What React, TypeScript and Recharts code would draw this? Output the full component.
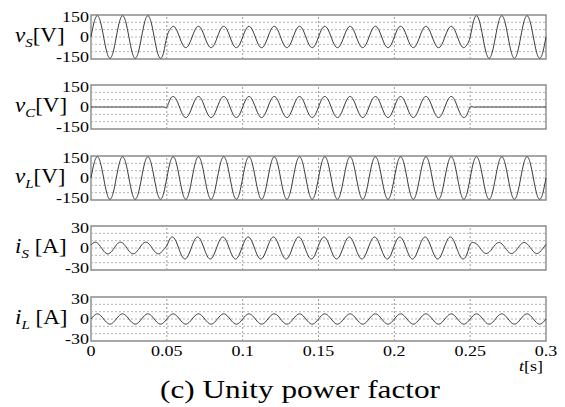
import { LineChart, Line, XAxis, YAxis, ReferenceLine, ReferenceArea } from "recharts";

// one sample every 1/480 s (8 samples per 60 Hz cycle), 0 .. 0.3 s
const SAMPLE_STEP = 1 / 480;

const vS = [
  0, 103, 145, 103, 0, -103, -145, -103,
  0, 103, 145, 103, 0, -103, -145, -103,
  0, 103, 145, 103, 0, -103, -145, -103,
  0, 52, 73, 52, 0, -52, -73, -52,
  0, 52, 73, 52, 0, -52, -73, -52,
  0, 52, 73, 52, 0, -52, -73, -52,
  0, 52, 73, 52, 0, -52, -73, -52,
  0, 52, 73, 52, 0, -52, -73, -52,
  0, 52, 73, 52, 0, -52, -73, -52,
  0, 52, 73, 52, 0, -52, -73, -52,
  0, 52, 73, 52, 0, -52, -73, -52,
  0, 52, 73, 52, 0, -52, -73, -52,
  0, 52, 73, 52, 0, -52, -73, -52,
  0, 52, 73, 52, 0, -52, -73, -52,
  0, 52, 73, 52, 0, -52, -73, -52,
  0, 103, 145, 103, 0, -103, -145, -103,
  0, 103, 145, 103, 0, -103, -145, -103,
  0, 103, 145, 103, 0, -103, -145, -103,
  0,
];

const vC = [
  0, 0, 0, 0, 0, 0, 0, 0,
  0, 0, 0, 0, 0, 0, 0, 0,
  0, 0, 0, 0, 0, 0, 0, 0,
  0, 51, 72, 51, 0, -51, -72, -51,
  0, 51, 72, 51, 0, -51, -72, -51,
  0, 51, 72, 51, 0, -51, -72, -51,
  0, 51, 72, 51, 0, -51, -72, -51,
  0, 51, 72, 51, 0, -51, -72, -51,
  0, 51, 72, 51, 0, -51, -72, -51,
  0, 51, 72, 51, 0, -51, -72, -51,
  0, 51, 72, 51, 0, -51, -72, -51,
  0, 51, 72, 51, 0, -51, -72, -51,
  0, 51, 72, 51, 0, -51, -72, -51,
  0, 51, 72, 51, 0, -51, -72, -51,
  0, 51, 72, 51, 0, -51, -72, -51,
  0, 0, 0, 0, 0, 0, 0, 0,
  0, 0, 0, 0, 0, 0, 0, 0,
  0, 0, 0, 0, 0, 0, 0, 0,
  0,
];

const vL = [
  0, 103, 145, 103, 0, -103, -145, -103,
  0, 103, 145, 103, 0, -103, -145, -103,
  0, 103, 145, 103, 0, -103, -145, -103,
  0, 103, 145, 103, 0, -103, -145, -103,
  0, 103, 145, 103, 0, -103, -145, -103,
  0, 103, 145, 103, 0, -103, -145, -103,
  0, 103, 145, 103, 0, -103, -145, -103,
  0, 103, 145, 103, 0, -103, -145, -103,
  0, 103, 145, 103, 0, -103, -145, -103,
  0, 103, 145, 103, 0, -103, -145, -103,
  0, 103, 145, 103, 0, -103, -145, -103,
  0, 103, 145, 103, 0, -103, -145, -103,
  0, 103, 145, 103, 0, -103, -145, -103,
  0, 103, 145, 103, 0, -103, -145, -103,
  0, 103, 145, 103, 0, -103, -145, -103,
  0, 103, 145, 103, 0, -103, -145, -103,
  0, 103, 145, 103, 0, -103, -145, -103,
  0, 103, 145, 103, 0, -103, -145, -103,
  0,
];

const iS = [
  4, 7.7, 6.9, 2.1, -4, -7.7, -6.9, -2.1,
  4, 7.7, 6.9, 2.1, -4, -7.7, -6.9, -2.1,
  4, 7.7, 6.9, 2.1, -4, -7.7, -6.9, -2.1,
  3.1, 12.6, 14.7, 8.2, -3.1, -12.6, -14.7, -8.2,
  3.1, 12.6, 14.7, 8.2, -3.1, -12.6, -14.7, -8.2,
  3.1, 12.6, 14.7, 8.2, -3.1, -12.6, -14.7, -8.2,
  3.1, 12.6, 14.7, 8.2, -3.1, -12.6, -14.7, -8.2,
  3.1, 12.6, 14.7, 8.2, -3.1, -12.6, -14.7, -8.2,
  3.1, 12.6, 14.7, 8.2, -3.1, -12.6, -14.7, -8.2,
  3.1, 12.6, 14.7, 8.2, -3.1, -12.6, -14.7, -8.2,
  3.1, 12.6, 14.7, 8.2, -3.1, -12.6, -14.7, -8.2,
  3.1, 12.6, 14.7, 8.2, -3.1, -12.6, -14.7, -8.2,
  3.1, 12.6, 14.7, 8.2, -3.1, -12.6, -14.7, -8.2,
  3.1, 12.6, 14.7, 8.2, -3.1, -12.6, -14.7, -8.2,
  3.1, 12.6, 14.7, 8.2, -3.1, -12.6, -14.7, -8.2,
  4.8, 7.5, 5.7, 0.7, -4.8, -7.5, -5.7, -0.7,
  4.8, 7.5, 5.7, 0.7, -4.8, -7.5, -5.7, -0.7,
  4.8, 7.5, 5.7, 0.7, -4.8, -7.5, -5.7, -0.7,
  4.8,
];

const iL = [
  0, 4.9, 7, 4.9, 0, -4.9, -7, -4.9,
  0, 4.9, 7, 4.9, 0, -4.9, -7, -4.9,
  0, 4.9, 7, 4.9, 0, -4.9, -7, -4.9,
  0, 4.9, 7, 4.9, 0, -4.9, -7, -4.9,
  0, 4.9, 7, 4.9, 0, -4.9, -7, -4.9,
  0, 4.9, 7, 4.9, 0, -4.9, -7, -4.9,
  0, 4.9, 7, 4.9, 0, -4.9, -7, -4.9,
  0, 4.9, 7, 4.9, 0, -4.9, -7, -4.9,
  0, 4.9, 7, 4.9, 0, -4.9, -7, -4.9,
  0, 4.9, 7, 4.9, 0, -4.9, -7, -4.9,
  0, 4.9, 7, 4.9, 0, -4.9, -7, -4.9,
  0, 4.9, 7, 4.9, 0, -4.9, -7, -4.9,
  0, 4.9, 7, 4.9, 0, -4.9, -7, -4.9,
  0, 4.9, 7, 4.9, 0, -4.9, -7, -4.9,
  0, 4.9, 7, 4.9, 0, -4.9, -7, -4.9,
  0, 4.9, 7, 4.9, 0, -4.9, -7, -4.9,
  0, 4.9, 7, 4.9, 0, -4.9, -7, -4.9,
  0, 4.9, 7, 4.9, 0, -4.9, -7, -4.9,
  0,
];

const timeTicks = [0, 0.05, 0.1, 0.15, 0.2, 0.25, 0.3];
const timeGrid = [0.05, 0.1, 0.15, 0.2, 0.25];
const voltTicks = [-150, 0, 150];
const voltGrid = [-100, -50, 0, 50, 100];
const ampTicks = [-30, 0, 30];
const ampGrid = [-20, -10, 0, 10, 20];

const data = vS.map((v, i) => ({
  t: i * SAMPLE_STEP,
  vS: v,
  vC: vC[i],
  vL: vL[i],
  iS: iS[i],
  iL: iL[i],
}));

const FONT = "'Liberation Serif', 'Times New Roman', serif";
const SX = 1.2; // the figure is stretched horizontally
const W = 565;
const PLOT_H = 44;
const M_TOP = 8;
const M_BOTTOM = 8;
const X_AXIS_H = 34;

type PanelProps = {
  dataKey: string;
  top: number;
  ticks: number[];
  grid: number[];
  sym: string;
  sub: string;
  unit: string;
  gap?: boolean;
  showTime?: boolean;
};

function Panel({ dataKey, top, ticks, grid, sym, sub, unit, gap, showTime }: PanelProps) {
  const min = ticks[0];
  const max = ticks[ticks.length - 1];
  const plotBottom = M_TOP + PLOT_H;
  const midY = M_TOP + PLOT_H / 2;
  const height = PLOT_H + M_TOP + M_BOTTOM + (showTime ? X_AXIS_H : 0);

  const yTick = (p: any) => {
    const v = p.payload.value;
    const nudge = v === max ? 1.5 : v === min ? -2 : 0;
    return (
      <text
        transform={`translate(89,${p.y + 5 + nudge}) scale(${SX},1)`}
        textAnchor="end"
        fontFamily={FONT}
        fontSize={15}
        fill="#000"
      >
        {v}
      </text>
    );
  };

  const xTick = (p: any) => {
    const v = p.payload.value;
    return (
      <g>
        <text
          transform={`translate(${p.x},${plotBottom + 15}) scale(${SX},1)`}
          textAnchor="middle"
          fontFamily={FONT}
          fontSize={15}
          fill="#000"
        >
          {v}
        </text>
        {v === 0.3 && (
          <text
            transform={`translate(${p.x - 3},${plotBottom + 30}) scale(${SX},1)`}
            textAnchor="end"
            fontFamily={FONT}
            fontSize={15}
            fill="#000"
          >
            <tspan fontStyle="italic">t</tspan>[s]
          </text>
        )}
      </g>
    );
  };

  const yLabel = () => (
    <text
      transform={`translate(15,${midY + 5}) scale(1.15,1)`}
      fontFamily={FONT}
      fontSize={20}
      fill="#000"
    >
      <tspan fontStyle="italic">{sym}</tspan>
      <tspan fontStyle="italic" fontSize={13} dy={5}>{sub}</tspan>
      <tspan dy={-5}>{gap ? "\u00a0" : ""}[{unit}]</tspan>
    </text>
  );

  return (
    <div style={{ position: "absolute", left: 0, top: top - M_TOP }}>
      <LineChart
        width={W}
        height={height}
        data={data}
        margin={{ top: M_TOP, right: 19, bottom: M_BOTTOM, left: 0 }}
      >
        <XAxis
          dataKey="t"
          type="number"
          domain={[0, 0.3]}
          ticks={timeTicks}
          hide={!showTime}
          axisLine={false}
          tickLine={false}
          tick={xTick}
          height={showTime ? X_AXIS_H : 0}
          interval={0}
        />
        <YAxis
          type="number"
          domain={[min, max]}
          ticks={ticks}
          width={91}
          axisLine={false}
          tickLine={false}
          tick={yTick}
          interval={0}
          label={{ content: yLabel }}
        />
        {grid.map(g => (
          <ReferenceLine key={`h${g}`} y={g} stroke="#b4b4b4" strokeDasharray="2 2" strokeWidth={1} />
        ))}
        {timeGrid.map(g => (
          <ReferenceLine key={`v${g}`} x={g} stroke="#9a9a9a" strokeDasharray="2 2" strokeWidth={1} />
        ))}
        <Line
          type="natural"
          dataKey={dataKey}
          stroke="#3a3a3a"
          strokeWidth={1}
          dot={false}
          isAnimationActive={false}
        />
        <ReferenceArea x1={0} x2={0.3} y1={min} y2={max} fill="none" stroke="#8a8a8a" strokeWidth={1.4} />
      </LineChart>
    </div>
  );
}

export default function App() {
  return (
    <div style={{ position: "absolute", left: 0, top: 0, width: W, height: 407, background: "#fff" }}>
      <Panel dataKey="vS" top={15} ticks={voltTicks} grid={voltGrid} sym="v" sub="S" unit="V" />
      <Panel dataKey="vC" top={85} ticks={voltTicks} grid={voltGrid} sym="v" sub="C" unit="V" />
      <Panel dataKey="vL" top={156} ticks={voltTicks} grid={voltGrid} sym="v" sub="L" unit="V" />
      <Panel dataKey="iS" top={226} ticks={ampTicks} grid={ampGrid} sym="i" sub="S" unit="A" gap />
      <Panel dataKey="iL" top={297} ticks={ampTicks} grid={ampGrid} sym="i" sub="L" unit="A" gap showTime />
      <div
        style={{
          position: "absolute",
          left: 0,
          top: 377,
          width: 600,
          textAlign: "center",
          fontFamily: FONT,
          fontSize: 26,
          lineHeight: "26px",
          transform: `scaleX(${SX})`,
          transformOrigin: "300px 0",
          whiteSpace: "nowrap",
        }}
      >
        (c) Unity power factor
      </div>
    </div>
  );
}
